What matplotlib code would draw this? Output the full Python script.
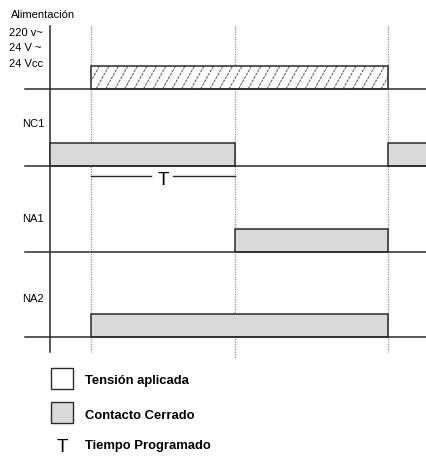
import matplotlib.pyplot as plt
from matplotlib.patches import Rectangle

plt.rcParams['font.family'] = ['Liberation Sans', 'DejaVu Sans']

# diagram texts
supply_title = "Alimentación"
supply_labels = ["220 v~", "24 V ~", "24 Vcc"]
row_labels = ["NC1", "NA1", "NA2"]
legend_labels = ["Tensión aplicada", "Contacto Cerrado", "Tiempo Programado"]

# switching instants (time units measured from the vertical axis)
t_on = 41
t_timer = 185
t_off = 338
t_end = 377

# intervals where the signal is high
supply_on = [(t_on, t_off)]
contacts = {
    "NC1": [(0, t_timer), (t_off, t_end + 10)],
    "NA1": [(t_timer, t_off)],
    "NA2": [(t_on, t_off)],
}

dark = '#2a2a2a'
grey = '#d9d9db'

fig = plt.figure(figsize=(4.27, 4.57), dpi=100)
ax = fig.add_axes([0, 0, 1, 1])
ax.set_xlim(-50, 377)
ax.set_ylim(457, 0)
ax.axis('off')

# layout of the rows
base_supply = 89
bases = [166, 252, 337]
high = 23

# vertical axis
ax.plot([0, 0], [26, 352], color=dark, lw=1.1)

# dotted guide lines at each switching instant
for t, y1 in zip([t_on, t_timer, t_off], [352, 358, 352]):
    ax.plot([t, t], [26, y1], color='#8a8a8a', lw=0.9, ls=(0, (1, 1)), zorder=1)

# supply row, hatched while voltage is applied
ax.plot([-25, t_end], [base_supply, base_supply], color=dark, lw=1.1, zorder=3)
for a, b in supply_on:
    box = Rectangle((a, base_supply - high), b - a, high, facecolor='white',
                    edgecolor='none', zorder=1)
    ax.add_patch(box)
    x0 = a - 14
    while x0 < b:
        ln, = ax.plot([x0, x0 + 13], [base_supply, base_supply - high],
                      color='#555555', lw=0.7, ls=(0, (3, 1)), zorder=2)
        ln.set_clip_path(box)
        x0 += 9.5
    ax.add_patch(Rectangle((a, base_supply - high), b - a, high, facecolor='none',
                           edgecolor=dark, lw=1.1, zorder=3))

ax.text(-39, 17.5, supply_title, fontsize=8, va='baseline', ha='left')
for lab, yb in zip(supply_labels, [36, 51, 67]):
    ax.text(-41, yb, lab, fontsize=8, va='baseline', ha='left')

# contact rows
label_base = [127, 221.5, 302.5]
for name, base, lb in zip(row_labels, bases, label_base):
    ax.plot([-25, t_end], [base, base], color=dark, lw=1.1, zorder=3)
    for a, b in contacts[name]:
        ax.add_patch(Rectangle((a, base - high), b - a, high, facecolor=grey,
                               edgecolor=dark, lw=1.1, zorder=2))
    ax.text(-28, lb, name, fontsize=8, va='baseline', ha='left')

# programmed time marker
mid = (t_on + t_timer) / 2
ax.plot([t_on, mid - 12], [176, 176], color=dark, lw=1.0)
ax.plot([mid + 10, t_timer], [176, 176], color=dark, lw=1.0)
ax.text(mid, 180.5, "T", fontsize=13.5, ha='center', va='center')

# legend
ax.add_patch(Rectangle((1, 368), 22, 21, facecolor='white', edgecolor=dark, lw=1.0))
ax.add_patch(Rectangle((1, 402), 22, 21, facecolor=grey, edgecolor=dark, lw=1.0))
ax.text(12.5, 452, "T", fontsize=13.5, ha='center', va='baseline')
for lab, yb in zip(legend_labels, [384, 419, 448.5]):
    ax.text(35, yb, lab, fontsize=9.4, fontweight='bold', va='baseline', ha='left')

fig.savefig('out.png', dpi=100)
